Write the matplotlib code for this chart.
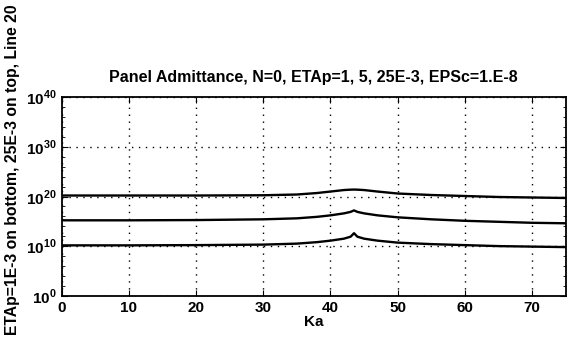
import numpy as np
import matplotlib
matplotlib.use("Agg")
import matplotlib.pyplot as plt
from matplotlib.ticker import FixedLocator, FixedFormatter

plt.rcParams['font.family'] = ['Liberation Sans', 'DejaVu Sans']
plt.rcParams['font.weight'] = 'bold'
plt.rcParams['mathtext.fontset'] = 'custom'
plt.rcParams['mathtext.rm'] = 'Liberation Sans:bold'
plt.rcParams['mathtext.bf'] = 'Liberation Sans:bold'

# sample points (log10 of admittance)
ka = [0, 10, 20, 30, 35, 38, 40, 42, 43, 43.5, 44, 45, 47, 50, 55, 60, 65, 70, 75]
log_top = [20.2, 20.2, 20.2, 20.25, 20.4, 20.7, 21.0, 21.3, 21.38, 21.4, 21.38, 21.3, 21.0, 20.6, 20.3, 20.1, 19.9, 19.8, 19.7]
log_mid = [15.2, 15.2, 15.25, 15.4, 15.6, 15.9, 16.2, 16.6, 16.9, 17.2, 16.9, 16.6, 16.2, 15.8, 15.4, 15.1, 14.9, 14.7, 14.6]
log_bot = [10.15, 10.15, 10.2, 10.3, 10.5, 10.8, 11.1, 11.5, 11.9, 12.6, 11.9, 11.5, 11.1, 10.7, 10.4, 10.2, 10.0, 9.9, 9.8]

xticks = [0, 10, 20, 30, 40, 50, 60, 70]
ydecades = [0, 10, 20, 30, 40]

fig = plt.figure(figsize=(5.73, 3.39), dpi=100)
ax = fig.add_axes([0.1077, 0.1277, 0.8795, 0.5853])

for vals in (log_top, log_mid, log_bot):
    ax.plot(ka, 10.0 ** np.array(vals), color='black', lw=1.7)

ax.set_yscale('log')
ax.set_xlim(0, 75)
ax.set_ylim(1e0, 1e40)
ax.set_xticks(xticks)
ax.set_xticklabels([str(t) for t in xticks])
ax.yaxis.set_major_locator(FixedLocator([10.0 ** d for d in ydecades]))
ax.yaxis.set_major_formatter(FixedFormatter([r'$10^{%d}$' % d for d in ydecades]))
ax.yaxis.set_minor_locator(FixedLocator([10.0 ** d for d in range(0, 41, 2) if d % 10]))
ax.yaxis.set_minor_formatter(FixedFormatter([]))

ax.grid(True, which='major', ls=(0, (1, 4)), color='black', lw=1.0)
ax.tick_params(which='both', direction='in', top=True, right=True, labelsize=11)
ax.tick_params(which='major', length=4)
ax.tick_params(which='minor', length=2)
for s in ax.spines.values():
    s.set_linewidth(1.3)

ax.set_title('Panel Admittance, N=0, ETAp=1, 5, 25E-3, EPSc=1.E-8',
             fontsize=11.5, fontweight='bold', pad=11)
ax.set_xlabel('Ka', fontsize=11, fontweight='bold', labelpad=0)
fig.text(0.021, 0.5, 'ETAp=1E-3 on bottom, 25E-3 on top, Line 20', rotation=90,
         ha='center', va='center', fontsize=11.3, fontweight='bold')

fig.savefig('out.png', dpi=100)
